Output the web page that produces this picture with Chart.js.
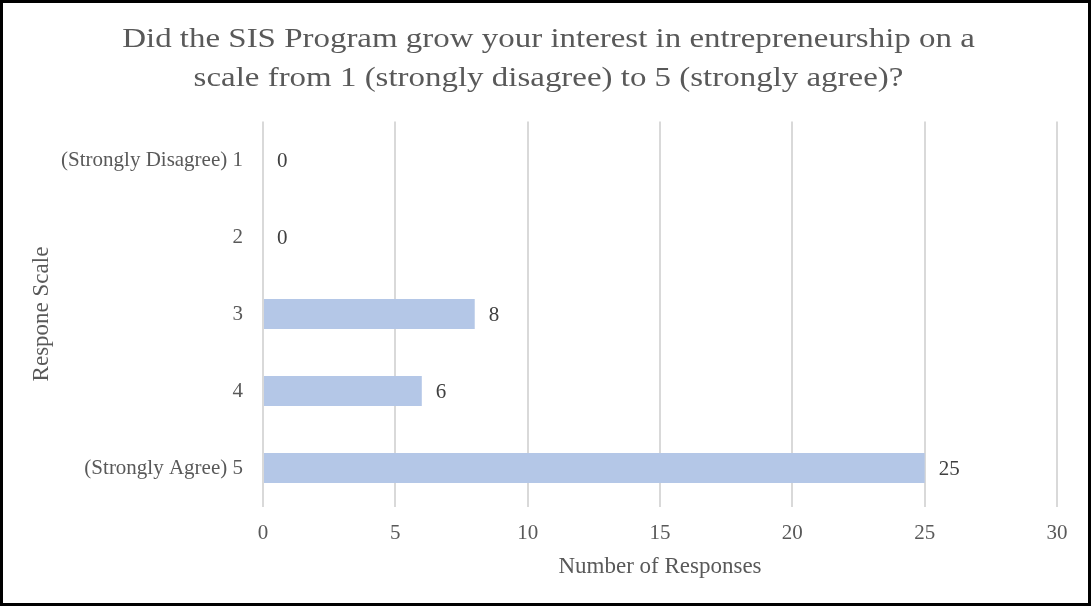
<!DOCTYPE html>
<html>
<head>
<meta charset="utf-8">
<script src="https://cdn.jsdelivr.net/npm/chart.js@4.4.1/dist/chart.umd.min.js"></script>
<style>
    body { margin: 0; background: #fff; }
    #marco {
        width: 1091px;
        height: 606px;
        border: 3px solid #000;
        box-sizing: border-box;
        background: #fff;
    }
    #grafico { display: block; }
</style>
</head>
<body>
<div id="marco">
    <canvas id="grafico" width="1085" height="600"></canvas>
</div>
<script>
// Datos de la encuesta
const tituloLineas = [
    'Did the SIS Program grow your interest in entrepreneurship on a',
    'scale from 1 (strongly disagree) to 5 (strongly agree)?'
];
const escalaRespuestas = ['(Strongly Disagree) 1', '2', '3', '4', '(Strongly Agree) 5'];
const cantidadRespuestas = [0, 0, 8, 6, 25];
const ejeXMin = 0;
const ejeXMax = 30;
const ejeXPaso = 5;

const fuente = "'Liberation Serif', 'Times New Roman', serif";
const gris = '#595959';

// Titulo en dos lineas, algo ensanchado horizontalmente
const tituloAncho = {
    id: 'tituloAncho',
    afterDraw(chart) {
        const ctx = chart.ctx;
        ctx.save();
        ctx.font = `27px ${fuente}`;
        ctx.fillStyle = gris;
        ctx.textAlign = 'center';
        ctx.textBaseline = 'alphabetic';
        const cx = chart.width / 2 + 3;
        [44, 83].forEach((y, i) => {
            ctx.save();
            ctx.translate(cx, y);
            ctx.scale(1.22, 1);
            ctx.fillText(tituloLineas[i], 0, 0);
            ctx.restore();
        });
        ctx.restore();
    }
};

// Etiqueta con el valor al final de cada barra
const etiquetasValor = {
    id: 'etiquetasValor',
    afterDatasetsDraw(chart) {
        const ctx = chart.ctx;
        const meta = chart.getDatasetMeta(0);
        ctx.save();
        ctx.font = `21px ${fuente}`;
        ctx.fillStyle = '#404040';
        ctx.textAlign = 'left';
        ctx.textBaseline = 'middle';
        meta.data.forEach((barra, i) => {
            ctx.fillText(String(cantidadRespuestas[i]), barra.x + 14, barra.y + 1);
        });
        ctx.restore();
    }
};

const ctx = document.getElementById('grafico').getContext('2d');
const grafico = new Chart(ctx, {
    type: 'bar',
    data: {
        labels: escalaRespuestas,
        datasets: [{
            data: cantidadRespuestas,
            backgroundColor: '#b4c7e7',
            borderWidth: 0,
            barPercentage: 0.39,
            categoryPercentage: 1
        }]
    },
    options: {
        indexAxis: 'y',
        responsive: false,
        animation: false,
        layout: { padding: { top: 118.5, right: 31, bottom: 0, left: 0 } },
        plugins: {
            legend: { display: false },
            title: { display: false },
            tooltip: { enabled: false }
        },
        scales: {
            x: {
                min: ejeXMin,
                max: ejeXMax,
                ticks: {
                    stepSize: ejeXPaso,
                    color: gris,
                    font: { family: fuente, size: 21 },
                    padding: 14
                },
                grid: { color: '#d9d9d9', lineWidth: 2, drawTicks: false },
                border: { display: false },
                title: {
                    display: true,
                    text: 'Number of Responses',
                    color: gris,
                    font: { family: fuente, size: 23 },
                    padding: { top: 0, bottom: 22 }
                },
                afterFit: s => { s.height = 96.5; }
            },
            y: {
                ticks: {
                    color: gris,
                    font: { family: fuente, size: 21 },
                    padding: 20
                },
                grid: { display: false, drawTicks: false },
                border: { display: false },
                title: {
                    display: true,
                    text: 'Respone Scale',
                    color: gris,
                    font: { family: fuente, size: 23 },
                    padding: { top: 25, bottom: 0 }
                },
                afterFit: s => { s.width = 260; }
            }
        }
    },
    plugins: [tituloAncho, etiquetasValor]
});
</script>
</body>
</html>
